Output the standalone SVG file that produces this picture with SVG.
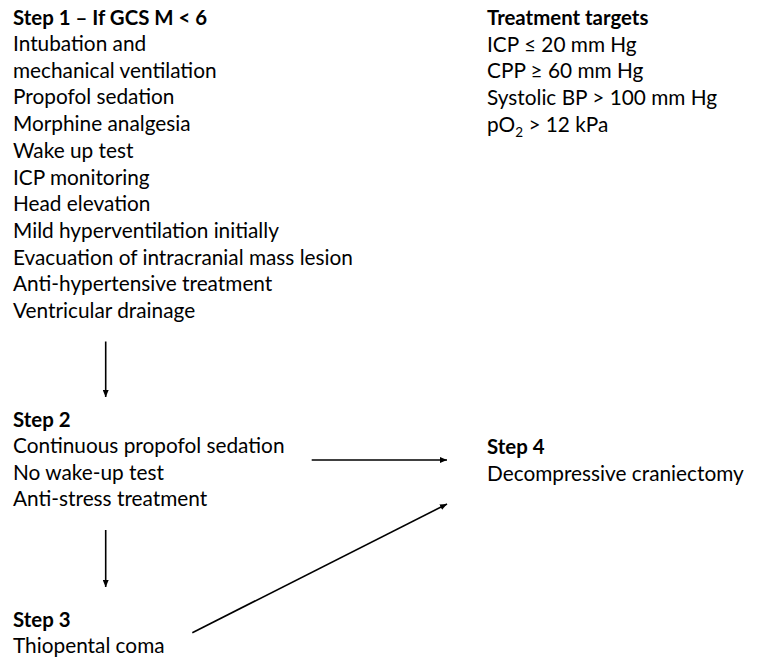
<svg xmlns="http://www.w3.org/2000/svg" width="765" height="668" viewBox="0 0 765 668">
<style>
text{font-family:Lato,"Open Sans","Liberation Sans",sans-serif;font-size:20.8px;fill:#000}
.b{font-weight:bold;font-size:20.4px}
.c{stroke:#000;stroke-width:1.6;fill:none}
</style>
<defs>
<marker id="ah" viewBox="0 0 10 10" refX="10" refY="5" markerWidth="7" markerHeight="6" markerUnits="userSpaceOnUse" orient="auto" preserveAspectRatio="none"><path d="M0,0L10,5L0,10z" fill="#000"/></marker>
</defs>
<rect width="765" height="668" fill="#fff"/>
<g id="step1">
<text x="13" y="24.5" class="b">Step 1 – If GCS M &lt; 6</text>
<text x="13" y="51">Intubation and</text>
<text x="13" y="77.7">mechanical ventilation</text>
<text x="13" y="104.4">Propofol sedation</text>
<text x="13" y="131.1">Morphine analgesia</text>
<text x="13" y="157.8">Wake up test</text>
<text x="13" y="184.5">ICP monitoring</text>
<text x="13" y="211.2">Head elevation</text>
<text x="13" y="237.9">Mild hyperventilation initially</text>
<text x="13" y="264.6">Evacuation of intracranial mass lesion</text>
<text x="13" y="291.3">Anti-hypertensive treatment</text>
<text x="13" y="318">Ventricular drainage</text>
</g>
<g id="targets">
<text x="487" y="25" class="b">Treatment targets</text>
<text x="487" y="51.7">ICP ≤ 20 mm Hg</text>
<text x="487" y="78.4">CPP ≥ 60 mm Hg</text>
<text x="487" y="105.1">Systolic BP &gt; 100 mm Hg</text>
<text x="487" y="131.8">pO<tspan font-size="13.5" dy="5">2</tspan><tspan dy="-5"> &gt; 12 kPa</tspan></text>
</g>
<g id="step2">
<text x="13" y="426.5" class="b">Step 2</text>
<text x="13" y="453.2">Continuous propofol sedation</text>
<text x="13" y="479.9">No wake-up test</text>
<text x="13" y="506.3">Anti-stress treatment</text>
</g>
<g id="step3">
<text x="13" y="626.7" class="b">Step 3</text>
<text x="13" y="653.3">Thiopental coma</text>
</g>
<g id="step4">
<text x="487" y="453.5" class="b">Step 4</text>
<text x="487" y="480.5">Decompressive craniectomy</text>
</g>
<g id="connectors">
<line class="c" x1="105.7" y1="341.5" x2="105.7" y2="397" marker-end="url(#ah)"/>
<line class="c" x1="105.7" y1="530" x2="105.7" y2="587" marker-end="url(#ah)"/>
<line class="c" x1="311.7" y1="460" x2="447" y2="460" marker-end="url(#ah)"/>
<line class="c" x1="192.3" y1="632.7" x2="447" y2="504" marker-end="url(#ah)"/>
</g>
</svg>
